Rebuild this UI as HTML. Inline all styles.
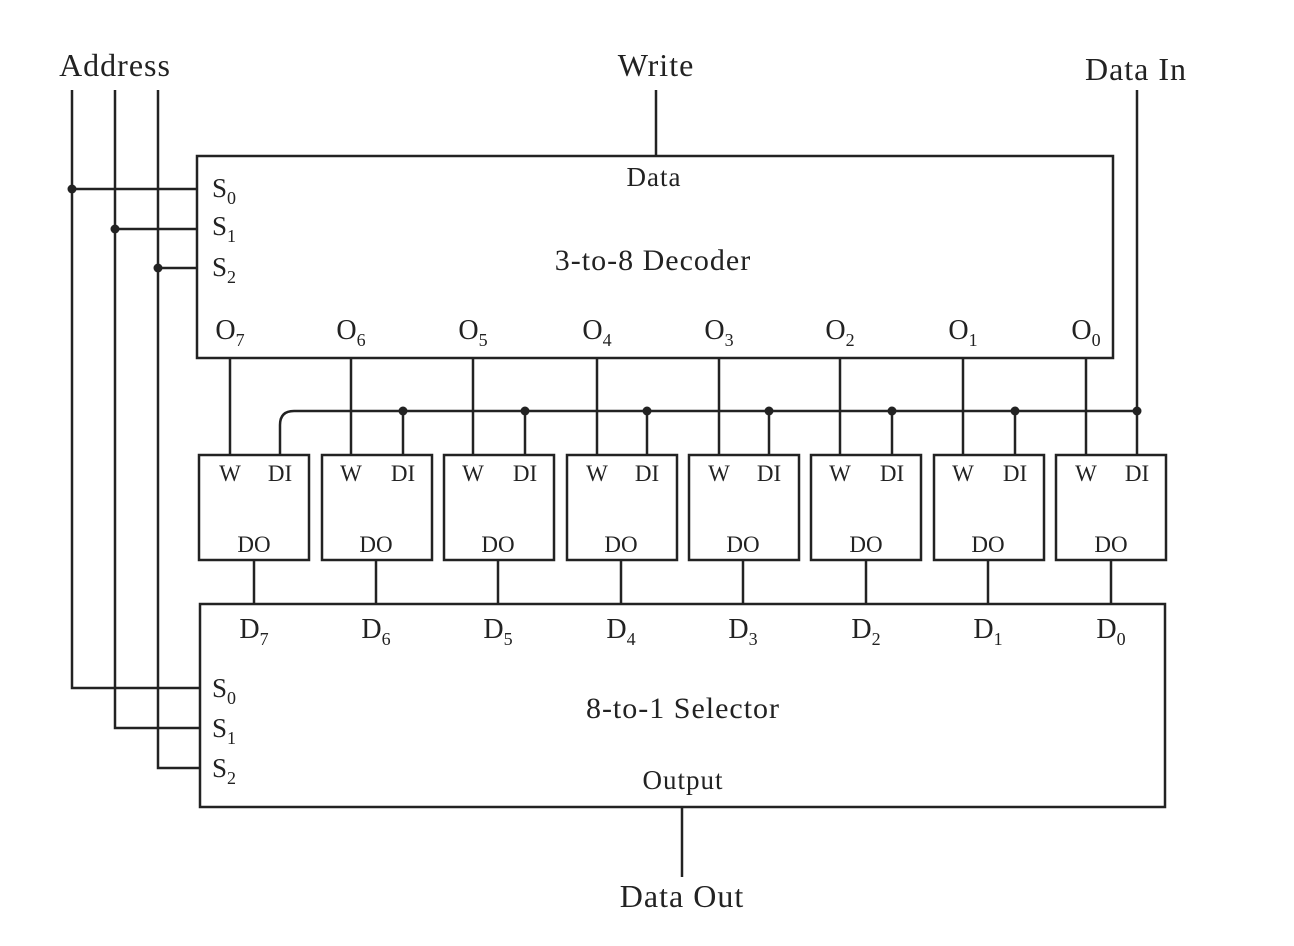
<!DOCTYPE html>
<html><head><style>
html,body{margin:0;padding:0;background:#fff;}
svg{display:block;}
text{font-family:"Liberation Serif",serif;fill:#222;}
</style></head><body>
<svg width="1294" height="946" viewBox="0 0 1294 946" xmlns="http://www.w3.org/2000/svg">
<g stroke="#222" stroke-width="2.5" fill="none">
<rect x="197" y="156" width="916" height="202"/>
<rect x="200" y="604" width="965" height="203"/>
<path d="M72 90 V688 H200"/>
<path d="M115 90 V728 H200"/>
<path d="M158 90 V768 H200"/>
<path d="M72 189 H197 M115 229 H197 M158 268 H197"/>
<path d="M656 90 V156"/>
<path d="M1137 90 V455"/>
<path d="M682 807 V877"/>
<path d="M280 455 V425 Q280 411 294 411 H1137"/>
<rect x="199" y="455" width="110" height="105"/>
<rect x="322" y="455" width="110" height="105"/>
<rect x="444" y="455" width="110" height="105"/>
<rect x="567" y="455" width="110" height="105"/>
<rect x="689" y="455" width="110" height="105"/>
<rect x="811" y="455" width="110" height="105"/>
<rect x="934" y="455" width="110" height="105"/>
<rect x="1056" y="455" width="110" height="105"/>
<path d="M230 358V455 M351 358V455 M473 358V455 M597 358V455 M719 358V455 M840 358V455 M963 358V455 M1086 358V455"/>
<path d="M403 411V455 M525 411V455 M647 411V455 M769 411V455 M892 411V455 M1015 411V455"/>
<path d="M254 560V604 M376 560V604 M498 560V604 M621 560V604 M743 560V604 M866 560V604 M988 560V604 M1111 560V604"/>
</g>
<g fill="#222">
<circle cx="72" cy="189" r="4.5"/><circle cx="115" cy="229" r="4.5"/><circle cx="158" cy="268" r="4.5"/>
<circle cx="403" cy="411" r="4.5"/><circle cx="525" cy="411" r="4.5"/><circle cx="647" cy="411" r="4.5"/>
<circle cx="769" cy="411" r="4.5"/><circle cx="892" cy="411" r="4.5"/><circle cx="1015" cy="411" r="4.5"/>
<circle cx="1137" cy="411" r="4.5"/>
</g>
<g font-size="32" letter-spacing="1">
<text x="115" y="76" text-anchor="middle">Address</text>
<text x="656" y="76" text-anchor="middle">Write</text>
<text x="1136" y="80" text-anchor="middle">Data In</text>
<text x="682" y="907" text-anchor="middle">Data Out</text>
</g>
<g font-size="30" letter-spacing="1">
<text x="654" y="186" text-anchor="middle" font-size="27">Data</text>
<text x="653" y="270" text-anchor="middle">3-to-8 Decoder</text>
<text x="683" y="718" text-anchor="middle">8-to-1 Selector</text>
<text x="683" y="789" text-anchor="middle" font-size="27">Output</text>
</g>
<g font-size="27">
<text x="212" y="197">S<tspan font-size="18" dy="7">0</tspan></text>
<text x="212" y="235">S<tspan font-size="18" dy="7">1</tspan></text>
<text x="212" y="276">S<tspan font-size="18" dy="7">2</tspan></text>
<text x="212" y="697">S<tspan font-size="18" dy="7">0</tspan></text>
<text x="212" y="737">S<tspan font-size="18" dy="7">1</tspan></text>
<text x="212" y="777">S<tspan font-size="18" dy="7">2</tspan></text>
</g>
<g font-size="28" text-anchor="middle">
<text x="230" y="339">O<tspan font-size="18" dy="7">7</tspan></text>
<text x="351" y="339">O<tspan font-size="18" dy="7">6</tspan></text>
<text x="473" y="339">O<tspan font-size="18" dy="7">5</tspan></text>
<text x="597" y="339">O<tspan font-size="18" dy="7">4</tspan></text>
<text x="719" y="339">O<tspan font-size="18" dy="7">3</tspan></text>
<text x="840" y="339">O<tspan font-size="18" dy="7">2</tspan></text>
<text x="963" y="339">O<tspan font-size="18" dy="7">1</tspan></text>
<text x="1086" y="339">O<tspan font-size="18" dy="7">0</tspan></text>
<text x="254" y="638">D<tspan font-size="18" dy="7">7</tspan></text>
<text x="376" y="638">D<tspan font-size="18" dy="7">6</tspan></text>
<text x="498" y="638">D<tspan font-size="18" dy="7">5</tspan></text>
<text x="621" y="638">D<tspan font-size="18" dy="7">4</tspan></text>
<text x="743" y="638">D<tspan font-size="18" dy="7">3</tspan></text>
<text x="866" y="638">D<tspan font-size="18" dy="7">2</tspan></text>
<text x="988" y="638">D<tspan font-size="18" dy="7">1</tspan></text>
<text x="1111" y="638">D<tspan font-size="18" dy="7">0</tspan></text>
</g>
<g font-size="23" text-anchor="middle">
<text x="230" y="481">W</text><text x="280" y="481">DI</text><text x="254" y="552">DO</text>
<text x="351" y="481">W</text><text x="403" y="481">DI</text><text x="376" y="552">DO</text>
<text x="473" y="481">W</text><text x="525" y="481">DI</text><text x="498" y="552">DO</text>
<text x="597" y="481">W</text><text x="647" y="481">DI</text><text x="621" y="552">DO</text>
<text x="719" y="481">W</text><text x="769" y="481">DI</text><text x="743" y="552">DO</text>
<text x="840" y="481">W</text><text x="892" y="481">DI</text><text x="866" y="552">DO</text>
<text x="963" y="481">W</text><text x="1015" y="481">DI</text><text x="988" y="552">DO</text>
<text x="1086" y="481">W</text><text x="1137" y="481">DI</text><text x="1111" y="552">DO</text>
</g>
</svg>
</body></html>
